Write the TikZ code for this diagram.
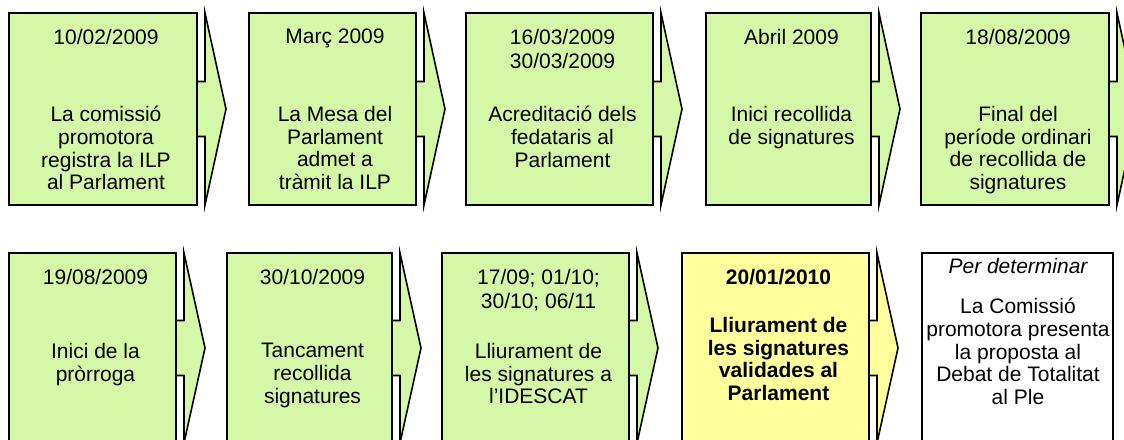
\documentclass[tikz,border=0pt]{standalone}
\usepackage{fontspec}
\setmainfont{Liberation Sans}

\definecolor{stepgreen}{RGB}{212,247,168}
\definecolor{stepyellow}{RGB}{255,255,158}

\tikzset{
  stepbox/.style={draw=black, line width=1.6pt, inner sep=0pt},
  steparrow/.style={draw=black, line width=1.6pt},
  datetext/.style={anchor=north, inner sep=0pt, align=center, font=\fontsize{21}{24}\selectfont},
  bodytext/.style={anchor=north, inner sep=0pt, align=center, font=\fontsize{21}{22.7}\selectfont},
}

\begin{document}
\begin{tikzpicture}[x=1pt,y=-1pt]
    \useasboundingbox (0,0) rectangle (1124,439);
    \clip (0,0) rectangle (1124,439);

    % boxes with their arrows behind them
    \foreach \n/\l/\r/\t/\b/\c in {a1/9/197/13/205/stepgreen, a2/249/416/13/205/stepgreen,
        a3/466/653/13/205/stepgreen, a4/706/871/13/205/stepgreen, a5/921/1109/13/205/stepgreen,
        b1/9/176/253/443/stepgreen, b2/227/392/253/443/stepgreen, b3/442/629/253/443/stepgreen,
        b4/682/869/253/443/stepyellow} {
        \pgfmathsetmacro{\m}{(\t+\b)/2}
        \filldraw[steparrow, fill=\c] ({\r-10},{\m-27.5}) -- ({\r+8},{\m-27.5}) -- ({\r+8},\t)
            -- ({\r+29},\m) -- ({\r+8},\b) -- ({\r+8},{\m+27.5}) -- ({\r-10},{\m+27.5}) -- cycle;
        \node[stepbox, fill=\c, minimum width={\r-\l}, minimum height={\b-\t}] (\n) at ({(\l+\r)/2},\m) {};
    }
    \node[stepbox, fill=white, minimum width=191, minimum height=190] (b5) at (1017.5,348) {};

    % first row
    \node[datetext] (da1) at (106,29) {10/02/2009};
    \node[bodytext] (ta1) at (106,106) {La comissió\\promotora\\registra la ILP\\al Parlament};
    \node[datetext] (da2) at (335,29) {Març 2009};
    \node[bodytext] (ta2) at (335,106) {La Mesa del\\Parlament\\admet a\\tràmit la ILP};
    \node[datetext] (da3) at (562.5,29) {16/03/2009\\30/03/2009};
    \node[bodytext] (ta3) at (562.5,106) {Acreditació dels\\fedataris al\\Parlament};
    \node[datetext] (da4) at (791.5,29) {Abril 2009};
    \node[bodytext] (ta4) at (791.5,106) {Inici recollida\\de signatures};
    \node[datetext] (da5) at (1018,29) {18/08/2009};
    \node[bodytext] (ta5) at (1018,106) {Final del\\període ordinari\\de recollida de\\signatures};

    % second row
    \node[datetext] (db1) at (95.5,269) {19/08/2009};
    \node[bodytext] (tb1) at (95.5,343) {Inici de la\\pròrroga};
    \node[datetext] (db2) at (312.5,269) {30/10/2009};
    \node[bodytext] (tb2) at (312.5,343) {Tancament\\recollida\\signatures};
    \node[datetext] (db3) at (538.5,269) {17/09; 01/10;\\30/10; 06/11};
    \node[bodytext] (tb3) at (538.5,343) {Lliurament de\\les signatures a\\l’IDESCAT};
    \node[datetext, font=\fontsize{21}{24}\selectfont\bfseries] (db4) at (778.5,269) {20/01/2010};
    \node[bodytext, font=\fontsize{21}{22.7}\selectfont\bfseries] (tb4) at (778.5,317) {Lliurament de\\les signatures\\validades al\\Parlament};
    \node[datetext, font=\fontsize{21}{24}\selectfont\itshape] (db5) at (1018,258) {Per determinar};
    \node[bodytext] (tb5) at (1018,298) {La Comissió\\promotora presenta\\la proposta al\\Debat de Totalitat\\al Ple};
\end{tikzpicture}
\end{document}
